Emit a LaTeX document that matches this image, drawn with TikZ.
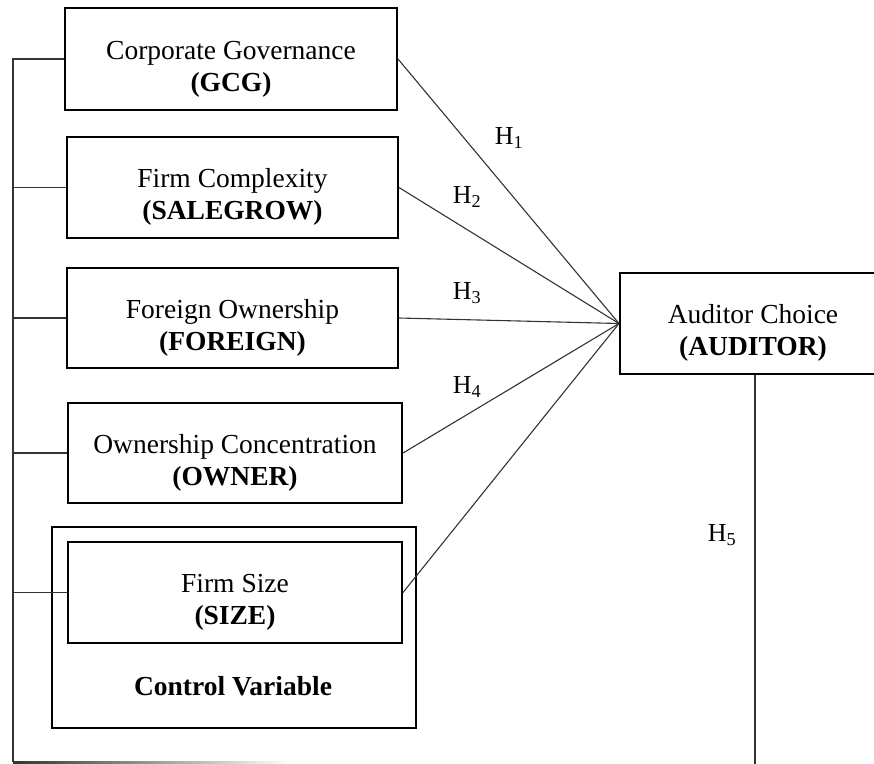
\documentclass[tikz,border=0pt]{standalone}
\usepackage{fontspec}
\setmainfont{Liberation Serif}
\usepackage{tikz}
\usetikzlibrary{calc}
\usetikzlibrary{positioning}

\begin{document}
\begin{tikzpicture}[x=1pt,y=-1pt]
\tikzstyle{box}=[rectangle,align=center,draw,line width=2pt,fill=white,inner sep=0pt,
                 text height=66pt,text depth=2pt,font=\fontsize{27.5}{32}\selectfont]
\tikzstyle{link}=[line width=1.1pt,draw=black!80]
\tikzstyle{hyp}=[font=\fontsize{26}{30}\selectfont]
\clip (0,0) rectangle (874,763);
% independent variables
\node[box,minimum width=332,minimum height=102] at(231, 59) (gcg) {Corporate Governance\\ \textbf{(GCG)}};
\node[box,minimum width=331,minimum height=101] at(232.5, 187.5) (sale) {Firm Complexity\\ \textbf{(SALEGROW)}};
\node[box,minimum width=331,minimum height=100] at(232.5, 318) (foreign) {Foreign Ownership\\ \textbf{(FOREIGN)}};
\node[box,minimum width=334,minimum height=100] at(235, 453) (owner) {Ownership Concentration\\ \textbf{(OWNER)}};
% control variable
\node[box,minimum width=364,minimum height=201] at(234, 627.5) (ctrl) {};
\node[box,minimum width=334,minimum height=101] at(235, 592.5) (size) {Firm Size\\ \textbf{(SIZE)}};
\node[font=\fontsize{27.5}{32}\selectfont\bfseries] at(233, 686) (ctrltxt) {Control Variable};
% dependent variable
\node[box,minimum width=266,minimum height=101] at(753, 323.5) (auditor) {Auditor Choice\\ \textbf{(AUDITOR)}};

% hypotheses
\foreach \n in {gcg,sale,foreign,owner,size}
  \draw[link] (\n.east) -- (auditor.west);
\coordinate (lt) at (13, 59);
\coordinate (lb) at (13, 762);
\coordinate (rb) at ($(auditor.south)+(2,440)$);
\draw[link] (gcg.west) -- (lt) -- (lb);
\foreach \n in {sale,foreign,owner,size}
  \draw[link] (\n.west) -- (\n.west -| lt);
\shade[left color=black!80,right color=white] ($(lb)+(0,-1)$) rectangle (290,763);
\draw[link] ($(auditor.south)+(2,0)$) -- (rb);

\node[hyp] at(509, 138) (h1) {H\textsubscript{1}};
\node[hyp] at(467, 197) (h2) {H\textsubscript{2}};
\node[hyp] at(467, 293) (h3) {H\textsubscript{3}};
\node[hyp] at(467, 387) (h4) {H\textsubscript{4}};
\node[hyp] at(722, 535) (h5) {H\textsubscript{5}};
\end{tikzpicture}
\end{document}
